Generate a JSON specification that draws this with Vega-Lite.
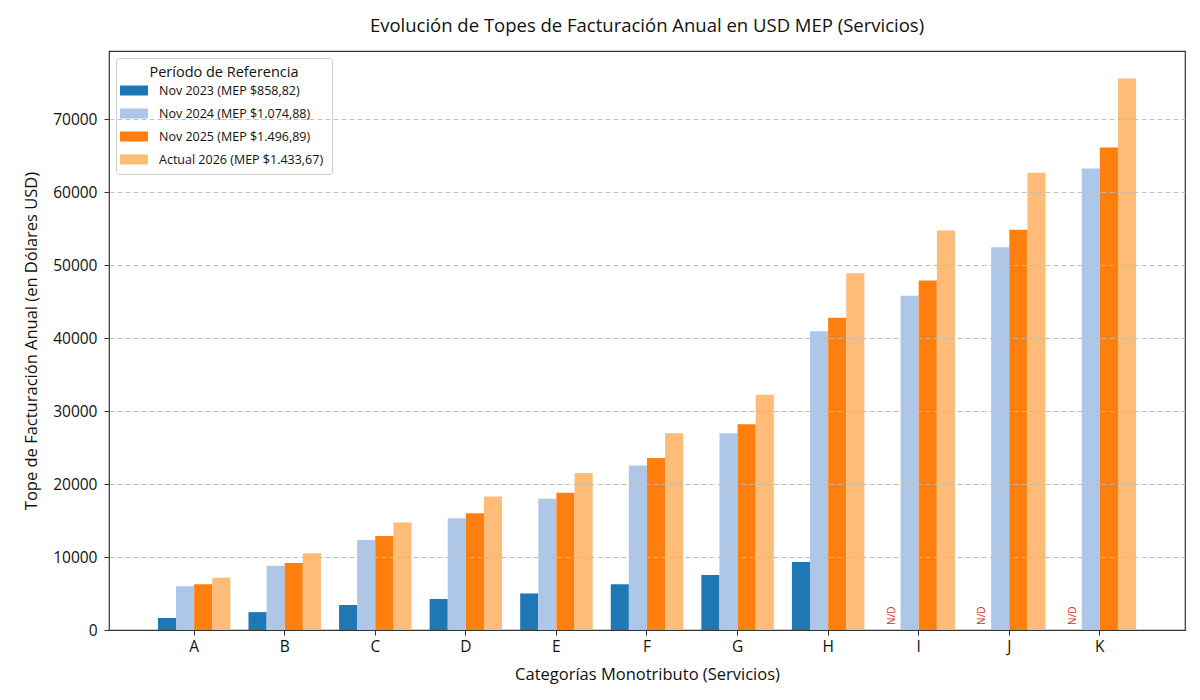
{
  "$schema": "https://vega.github.io/schema/vega-lite/v6.json",
  "autosize": {"type": "none"},
  "padding": {"left": 109, "top": 51, "right": 15, "bottom": 70},
  "width": 1076,
  "height": 579,
  "background": "white",
  "title": {
    "text": "Evolución de Topes de Facturación Anual en USD MEP (Servicios)",
    "font": "Open Sans",
    "fontSize": 18.5,
    "fontWeight": "normal",
    "color": "#111",
    "offset": 16
  },
  "config": {
    "font": "Open Sans",
    "view": {"stroke": "#333", "strokeWidth": 1.2},
    "axis": {
      "domain": false,
      "labelFont": "Open Sans",
      "labelFontSize": 15.5,
      "labelColor": "#111",
      "titleFont": "Open Sans",
      "titleFontSize": 16.5,
      "titleFontWeight": "normal",
      "titleColor": "#111",
      "tickColor": "#333",
      "tickSize": 5,
      "labelPadding": 4
    }
  },
  "data": {
    "values": [
      {"categoria": "A", "periodo": "Nov 2023 (MEP $858,82)", "valor": 1647},
      {"categoria": "B", "periodo": "Nov 2023 (MEP $858,82)", "valor": 2449},
      {"categoria": "C", "periodo": "Nov 2023 (MEP $858,82)", "valor": 3428},
      {"categoria": "D", "periodo": "Nov 2023 (MEP $858,82)", "valor": 4254},
      {"categoria": "E", "periodo": "Nov 2023 (MEP $858,82)", "valor": 5009},
      {"categoria": "F", "periodo": "Nov 2023 (MEP $858,82)", "valor": 6257},
      {"categoria": "G", "periodo": "Nov 2023 (MEP $858,82)", "valor": 7527},
      {"categoria": "H", "periodo": "Nov 2023 (MEP $858,82)", "valor": 9315},
      {"categoria": "I", "periodo": "Nov 2023 (MEP $858,82)", "valor": null, "nota": "N/D"},
      {"categoria": "J", "periodo": "Nov 2023 (MEP $858,82)", "valor": null, "nota": "N/D"},
      {"categoria": "K", "periodo": "Nov 2023 (MEP $858,82)", "valor": null, "nota": "N/D"},
      {"categoria": "A", "periodo": "Nov 2024 (MEP $1.074,88)", "valor": 6001},
      {"categoria": "B", "periodo": "Nov 2024 (MEP $1.074,88)", "valor": 8792},
      {"categoria": "C", "periodo": "Nov 2024 (MEP $1.074,88)", "valor": 12327},
      {"categoria": "D", "periodo": "Nov 2024 (MEP $1.074,88)", "valor": 15304},
      {"categoria": "E", "periodo": "Nov 2024 (MEP $1.074,88)", "valor": 18002},
      {"categoria": "F", "periodo": "Nov 2024 (MEP $1.074,88)", "valor": 22561},
      {"categoria": "G", "periodo": "Nov 2024 (MEP $1.074,88)", "valor": 26980},
      {"categoria": "H", "periodo": "Nov 2024 (MEP $1.074,88)", "valor": 40935},
      {"categoria": "I", "periodo": "Nov 2024 (MEP $1.074,88)", "valor": 45819},
      {"categoria": "J", "periodo": "Nov 2024 (MEP $1.074,88)", "valor": 52471},
      {"categoria": "K", "periodo": "Nov 2024 (MEP $1.074,88)", "valor": 63263},
      {"categoria": "A", "periodo": "Nov 2025 (MEP $1.496,89)", "valor": 6272},
      {"categoria": "B", "periodo": "Nov 2025 (MEP $1.496,89)", "valor": 9190},
      {"categoria": "C", "periodo": "Nov 2025 (MEP $1.496,89)", "valor": 12885},
      {"categoria": "D", "periodo": "Nov 2025 (MEP $1.496,89)", "valor": 15997},
      {"categoria": "E", "periodo": "Nov 2025 (MEP $1.496,89)", "valor": 18817},
      {"categoria": "F", "periodo": "Nov 2025 (MEP $1.496,89)", "valor": 23582},
      {"categoria": "G", "periodo": "Nov 2025 (MEP $1.496,89)", "valor": 28201},
      {"categoria": "H", "periodo": "Nov 2025 (MEP $1.496,89)", "valor": 42788},
      {"categoria": "I", "periodo": "Nov 2025 (MEP $1.496,89)", "valor": 47894},
      {"categoria": "J", "periodo": "Nov 2025 (MEP $1.496,89)", "valor": 54847},
      {"categoria": "K", "periodo": "Nov 2025 (MEP $1.496,89)", "valor": 66127},
      {"categoria": "A", "periodo": "Actual 2026 (MEP $1.433,67)", "valor": 7169},
      {"categoria": "B", "periodo": "Actual 2026 (MEP $1.433,67)", "valor": 10503},
      {"categoria": "C", "periodo": "Actual 2026 (MEP $1.433,67)", "valor": 14727},
      {"categoria": "D", "periodo": "Actual 2026 (MEP $1.433,67)", "valor": 18284},
      {"categoria": "E", "periodo": "Actual 2026 (MEP $1.433,67)", "valor": 21507},
      {"categoria": "F", "periodo": "Actual 2026 (MEP $1.433,67)", "valor": 26953},
      {"categoria": "G", "periodo": "Actual 2026 (MEP $1.433,67)", "valor": 32233},
      {"categoria": "H", "periodo": "Actual 2026 (MEP $1.433,67)", "valor": 48905},
      {"categoria": "I", "periodo": "Actual 2026 (MEP $1.433,67)", "valor": 54740},
      {"categoria": "J", "periodo": "Actual 2026 (MEP $1.433,67)", "valor": 62687},
      {"categoria": "K", "periodo": "Actual 2026 (MEP $1.433,67)", "valor": 75580}
    ]
  },
  "encoding": {
    "x": {
      "field": "categoria",
      "type": "nominal",
      "scale": {"paddingInner": 0.2, "paddingOuter": 0.54},
      "axis": {
        "labelAngle": 0,
        "title": "Categorías Monotributo (Servicios)",
        "titlePadding": 12
      }
    },
    "xOffset": {
      "field": "periodo",
      "type": "nominal",
      "scale": {
        "domain": ["Nov 2023 (MEP $858,82)", "Nov 2024 (MEP $1.074,88)", "Nov 2025 (MEP $1.496,89)", "Actual 2026 (MEP $1.433,67)"],
        "paddingInner": 0,
        "paddingOuter": 0
      }
    }
  },
  "layer": [
    {
      "mark": {"type": "bar"},
      "encoding": {
        "y": {
          "field": "valor",
          "type": "quantitative",
          "scale": {"domain": [0, 79359], "nice": false},
          "axis": {
            "values": [0, 10000, 20000, 30000, 40000, 50000, 60000, 70000],
            "format": "d",
            "labelPadding": 7,
            "title": "Tope de Facturación Anual (en Dólares USD)",
            "titlePadding": 13,
            "grid": true,
            "gridColor": "#bbb",
            "gridDash": [5, 3],
            "gridWidth": 0.9,
            "gridOpacity": {"condition": {"test": "datum.value === 0", "value": 0}, "value": 1},
            "zindex": 1
          }
        },
        "color": {
          "field": "periodo",
          "type": "nominal",
          "scale": {
            "domain": ["Nov 2023 (MEP $858,82)", "Nov 2024 (MEP $1.074,88)", "Nov 2025 (MEP $1.496,89)", "Actual 2026 (MEP $1.433,67)"],
            "range": ["#1f77b4", "#aec7e8", "#ff7f0e", "#ffbb78"]
          },
          "legend": {
            "title": "Período de Referencia",
            "orient": "top-left",
            "offset": 7,
            "fillColor": "white",
            "strokeColor": "#ccc",
            "cornerRadius": 3,
            "padding": 8,
            "titleFont": "Open Sans",
            "titleFontSize": 14.5,
            "titleFontWeight": "normal",
            "titleColor": "#111",
            "titleAnchor": "middle",
            "titlePadding": 0,
            "labelFont": "Open Sans",
            "labelFontSize": 12.5,
            "labelColor": "#111",
            "labelLimit": 300,
            "labelOffset": 15,
            "rowPadding": 6,
            "symbolType": "M-1.4,-0.5H1.4V0.5H-1.4Z",
            "symbolSize": 400,
            "symbolStrokeWidth": 0,
            "symbolOpacity": 1
          }
        }
      }
    },
    {
      "transform": [{"filter": "datum.nota === 'N/D'"}],
      "mark": {
        "type": "text",
        "angle": 270,
        "align": "left",
        "baseline": "middle",
        "color": "#e0302a",
        "fontSize": 10,
        "font": "Open Sans"
      },
      "encoding": {
        "y": {"datum": 700},
        "text": {"field": "nota"}
      }
    }
  ]
}
